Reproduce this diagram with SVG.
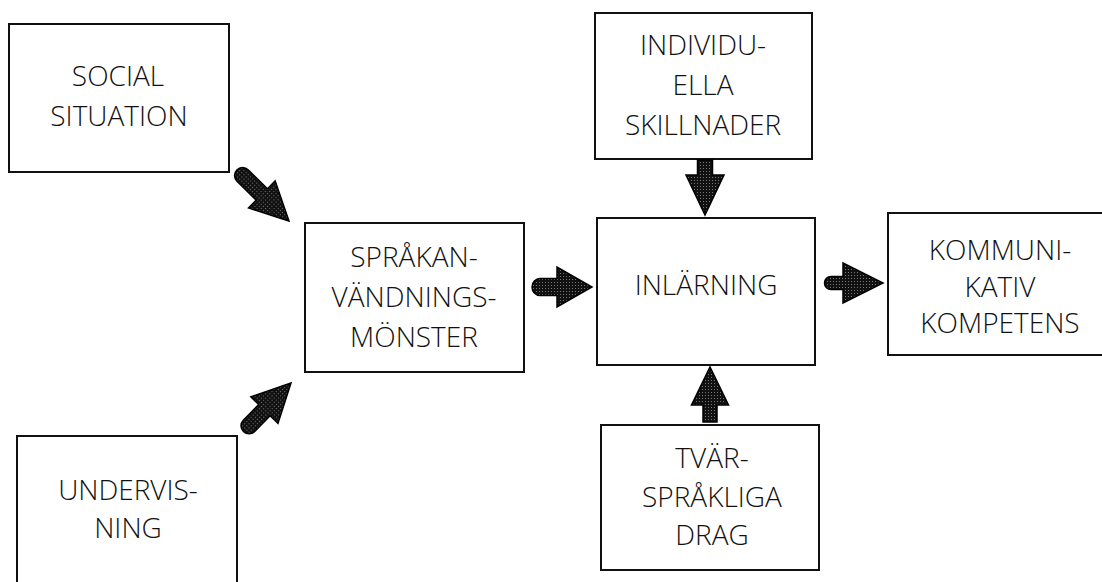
<svg xmlns="http://www.w3.org/2000/svg" width="1102" height="582" viewBox="0 0 1102 582">
<defs>
<pattern id="stip" width="3" height="3" patternUnits="userSpaceOnUse">
<rect width="3" height="3" fill="#111"/>
<rect x="1" y="1" width="1" height="1" fill="#777"/>
</pattern>
</defs>
<style>
.box{fill:#fff;stroke:#111;stroke-width:2}
.lbl{font-family:"Open Sans","DejaVu Sans",sans-serif;font-weight:300;font-size:28px;fill:#111;text-anchor:middle}
.arr{fill:url(#stip);stroke:#000;stroke-width:1.5;stroke-linejoin:miter}
</style>
<rect width="1102" height="582" fill="#fff"/>
<g id="social">
<rect class="box" x="9" y="24" width="220" height="148"/>
<text class="lbl" x="118" y="86">SOCIAL</text>
<text class="lbl" x="119" y="126">SITUATION</text>
</g>
<g id="undervisning">
<rect class="box" x="17" y="436" width="220" height="160"/>
<text class="lbl" x="128" y="500">UNDERVIS-</text>
<text class="lbl" x="128" y="538">NING</text>
</g>
<g id="sprakanvandning">
<rect class="box" x="305" y="223" width="219" height="149"/>
<text class="lbl" x="414" y="267">SPRÅKAN-</text>
<text class="lbl" x="414" y="307">VÄNDNINGS-</text>
<text class="lbl" x="414" y="347">MÖNSTER</text>
</g>
<g id="inlarning">
<rect class="box" x="597" y="218" width="218" height="147"/>
<text class="lbl" x="706" y="295">INLÄRNING</text>
</g>
<g id="individuella">
<rect class="box" x="595" y="13" width="217" height="146"/>
<text class="lbl" x="703" y="55">INDIVIDU-</text>
<text class="lbl" x="703" y="95">ELLA</text>
<text class="lbl" x="703" y="135">SKILLNADER</text>
</g>
<g id="tvarsprakliga">
<rect class="box" x="601" y="425" width="218" height="145"/>
<text class="lbl" x="712" y="468">TVÄR-</text>
<text class="lbl" x="712" y="507">SPRÅKLIGA</text>
<text class="lbl" x="712" y="545">DRAG</text>
</g>
<g id="kommunikativ">
<rect class="box" x="888" y="213" width="230" height="142"/>
<text class="lbl" x="1000" y="260">KOMMUNI-</text>
<text class="lbl" x="1000" y="297">KATIV</text>
<text class="lbl" x="1000" y="333">KOMPETENS</text>
</g>
<g id="connectors">
<path class="arr" transform="translate(289,221) rotate(44.4)" d="M-65,-8 L-38,-8 L-38,-19 L0,0 L-38,19 L-38,8 L-65,8 A8,8 0 0 1 -65,-8 Z"/>
<path class="arr" transform="translate(291,383) rotate(-45.6)" d="M-60,-8 L-38,-8 L-38,-19 L0,0 L-38,19 L-38,8 L-60,8 A8,8 0 0 1 -60,-8 Z"/>
<path class="arr" transform="translate(592,287)" d="M-52,-8.5 L-35,-8.5 L-35,-20 L0,0 L-35,20 L-35,8.5 L-52,8.5 A8,8.5 0 0 1 -52,-8.5 Z"/>
<path class="arr" transform="translate(883,283)" d="M-52,-6.5 L-40,-6.5 L-40,-20 L0,0 L-40,20 L-40,6.5 L-52,6.5 A6.5,6.5 0 0 1 -52,-6.5 Z"/>
<path class="arr" transform="translate(705,215) rotate(90)" d="M-55,-7.5 L-40,-7.5 L-40,-19 L0,0 L-40,19 L-40,7.5 L-55,7.5 Z"/>
<path class="arr" transform="translate(710,367) rotate(-90)" d="M-55,-7 L-38,-7 L-38,-18.5 L0,0 L-38,18.5 L-38,7 L-55,7 Z"/>
</g>
</svg>
